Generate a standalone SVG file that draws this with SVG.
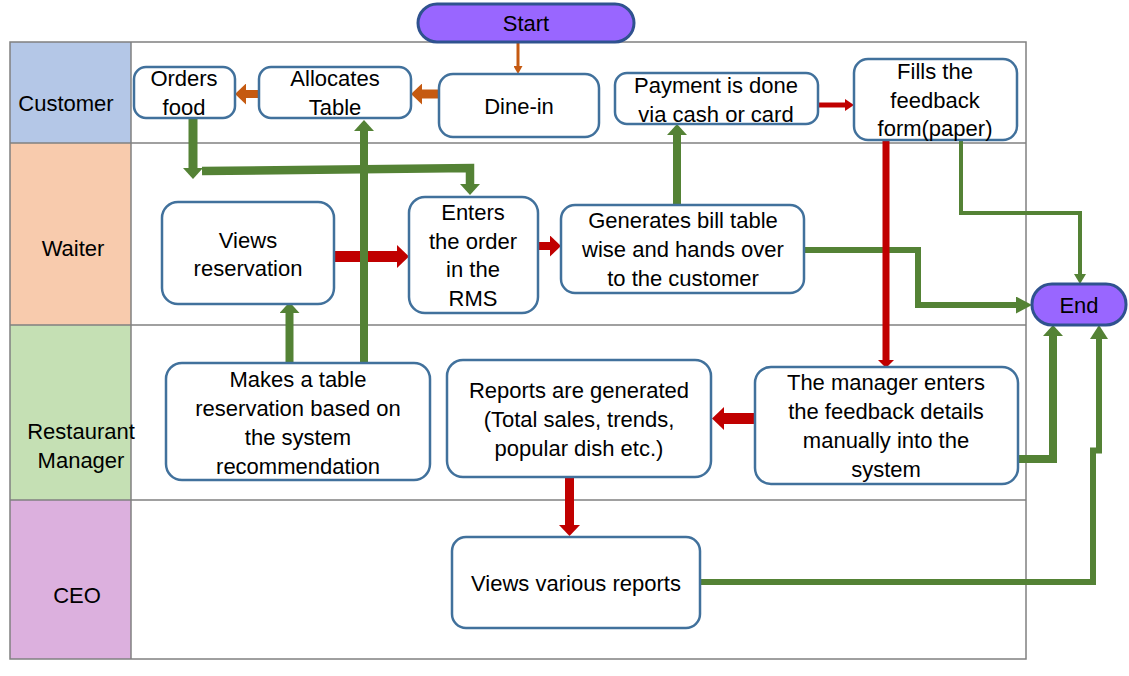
<svg xmlns="http://www.w3.org/2000/svg" width="1129" height="676" viewBox="0 0 1129 676">
<style>
.lane{stroke:#808080;stroke-width:1.5}
.node{fill:#ffffff;stroke:#41719C;stroke-width:2.5}
.term{fill:#9966FF;stroke:#2F528F;stroke-width:3}
text{font-family:"Liberation Sans",Arial,sans-serif;font-size:22px;fill:#000000;text-anchor:middle}
.c{fill:none;stroke-linejoin:miter;stroke-linecap:butt}
.g{stroke:#548235}
.r{stroke:#C00000}
.b{stroke:#C55A11}
</style>
<defs>
<marker id="brS" markerUnits="userSpaceOnUse" viewBox="0 0 8 9" markerWidth="8" markerHeight="9" refX="1" refY="4.5" orient="auto"><path d="M0,0 L8,4.5 L0,9 z" fill="#C55A11"/></marker>
<marker id="brL" markerUnits="userSpaceOnUse" viewBox="0 0 11 21" markerWidth="11" markerHeight="21" refX="1" refY="10.5" orient="auto"><path d="M0,0 L11,10.5 L0,21 z" fill="#C55A11"/></marker>
<marker id="rL" markerUnits="userSpaceOnUse" viewBox="0 0 12 23" markerWidth="12" markerHeight="23" refX="1" refY="11.5" orient="auto"><path d="M0,0 L12,11.5 L0,23 z" fill="#C00000"/></marker>
<marker id="rM" markerUnits="userSpaceOnUse" viewBox="0 0 11 21" markerWidth="11" markerHeight="21" refX="1" refY="10.5" orient="auto"><path d="M0,0 L11,10.5 L0,21 z" fill="#C00000"/></marker>
<marker id="rS" markerUnits="userSpaceOnUse" viewBox="0 0 9 12" markerWidth="9" markerHeight="12" refX="1" refY="6" orient="auto"><path d="M0,0 L9,6 L0,12 z" fill="#C00000"/></marker>
<marker id="rT" markerUnits="userSpaceOnUse" viewBox="0 0 8 16" markerWidth="8" markerHeight="16" refX="1" refY="8" orient="auto"><path d="M0,0 L8,8 L0,16 z" fill="#C00000"/></marker>
<marker id="gL" markerUnits="userSpaceOnUse" viewBox="0 0 11 20" markerWidth="11" markerHeight="20" refX="1" refY="10" orient="auto"><path d="M0,0 L11,10 L0,20 z" fill="#548235"/></marker>
<marker id="gM" markerUnits="userSpaceOnUse" viewBox="0 0 16 17" markerWidth="16" markerHeight="17" refX="1" refY="8.5" orient="auto"><path d="M0,0 L16,8.5 L0,17 z" fill="#548235"/></marker>
<marker id="gV" markerUnits="userSpaceOnUse" viewBox="0 0 14 18" markerWidth="14" markerHeight="18" refX="1" refY="9" orient="auto"><path d="M0,0 L14,9 L0,18 z" fill="#548235"/></marker>
<marker id="gS" markerUnits="userSpaceOnUse" viewBox="0 0 10 12" markerWidth="10" markerHeight="12" refX="1" refY="6" orient="auto"><path d="M0,0 L10,6 L0,12 z" fill="#548235"/></marker>
</defs>
<rect x="0" y="0" width="1129" height="676" fill="#ffffff"/>

<g id="lanes">
<rect x="10" y="42" width="121" height="101" fill="#B4C7E7"/>
<rect x="10" y="143" width="121" height="182" fill="#F8CBAD"/>
<rect x="10" y="325" width="121" height="175" fill="#C5E0B4"/>
<rect x="10" y="500" width="121" height="159" fill="#DCB0DE"/>
<rect x="10" y="42" width="1016" height="617" fill="none" class="lane"/>
<line x1="131" y1="42" x2="131" y2="659" class="lane"/>
<line x1="10" y1="143" x2="1026" y2="143" class="lane"/>
<line x1="10" y1="325" x2="1026" y2="325" class="lane"/>
<line x1="10" y1="500" x2="1026" y2="500" class="lane"/>
<text x="66" y="111">Customer</text>
<text x="73" y="256">Waiter</text>
<text x="81" y="439">Restaurant</text>
<text x="81" y="468">Manager</text>
<text x="77" y="603">CEO</text>
</g>

<g id="connectors">
<path class="c b" stroke-width="3" d="M518,42 V67" marker-end="url(#brS)"/>
<path class="c b" stroke-width="9" d="M439,94 H421" marker-end="url(#brL)"/>
<path class="c b" stroke-width="8" d="M259,94 H245" marker-end="url(#brL)"/>
<path class="c r" stroke-width="11" d="M335,256.5 H398" marker-end="url(#rL)"/>
<path class="c g" stroke-width="9" d="M193,118 V169" marker-end="url(#gL)"/>
<path class="c g" stroke-width="8.5" d="M202,171 L470,168 V185" marker-end="url(#gL)"/>
<path class="c g" stroke-width="8" d="M364,363 V130" marker-end="url(#gL)"/>
<path class="c g" stroke-width="8" d="M289.5,363 V312" marker-end="url(#gL)"/>
<path class="c r" stroke-width="8" d="M538,246 H551" marker-end="url(#rM)"/>
<path class="c g" stroke-width="8" d="M677,205 V134" marker-end="url(#gL)"/>
<path class="c r" stroke-width="5" d="M818,105 H846" marker-end="url(#rS)"/>
<path class="c g" stroke-width="4" d="M961,140 V213 H1080 V275" marker-end="url(#gS)"/>
<path class="c g" stroke-width="6" d="M805,250 H918 V305 H1017" marker-end="url(#gM)"/>
<path class="c r" stroke-width="7" d="M886,140 V361" marker-end="url(#rT)"/>
<path class="c r" stroke-width="11" d="M755,418.5 H723" marker-end="url(#rL)"/>
<path class="c r" stroke-width="9" d="M569.5,477 V526" marker-end="url(#rM)"/>
<path class="c g" stroke-width="8" d="M1018,459 H1053 V335" marker-end="url(#gL)"/>
<path class="c g" stroke-width="6" d="M700,582 H1093 V450.5 H1099 V338" marker-end="url(#gV)"/>
</g>

<g id="start"><rect x="418" y="4" width="216" height="38" rx="19" class="term"/><text x="526" y="31">Start</text></g>
<g id="end"><rect x="1032" y="284" width="94" height="41" rx="20" class="term"/><text x="1079" y="313">End</text></g>

<g id="orders-food"><rect x="134" y="67" width="101" height="51" rx="12" class="node"/><text x="184" y="86">Orders</text><text x="184" y="115">food</text></g>
<g id="allocates-table"><rect x="259" y="67" width="152" height="51" rx="12" class="node"/><text x="335" y="86">Allocates</text><text x="335" y="115">Table</text></g>
<g id="dine-in"><rect x="439" y="74" width="160" height="63" rx="14" class="node"/><text x="519" y="114">Dine-in</text></g>
<g id="payment"><rect x="615" y="73" width="203" height="51" rx="12" class="node"/><text x="716" y="93">Payment is done</text><text x="716" y="122">via cash or card</text></g>
<g id="fills-feedback"><rect x="854" y="59" width="163" height="81" rx="14" class="node"/><text x="935" y="79">Fills the</text><text x="935" y="108">feedback</text><text x="935" y="136">form(paper)</text></g>
<g id="views-reservation"><rect x="162" y="202" width="172" height="102" rx="16" class="node"/><text x="248" y="248">Views</text><text x="248" y="276">reservation</text></g>
<g id="enters-order"><rect x="409" y="197" width="129" height="116" rx="16" class="node"/><text x="473" y="220">Enters</text><text x="473" y="249">the order</text><text x="473" y="277">in the</text><text x="473" y="306">RMS</text></g>
<g id="generates-bill"><rect x="561" y="205" width="243" height="88" rx="14" class="node"/><text x="683" y="228">Generates bill table</text><text x="683" y="257">wise and hands over</text><text x="683" y="286">to the customer</text></g>
<g id="makes-reservation"><rect x="166" y="363" width="264" height="117" rx="16" class="node"/><text x="298" y="387">Makes a table</text><text x="298" y="416">reservation based on</text><text x="298" y="445">the system</text><text x="298" y="474">recommendation</text></g>
<g id="reports-generated"><rect x="447" y="360" width="264" height="117" rx="16" class="node"/><text x="579" y="398">Reports are generated</text><text x="579" y="427">(Total sales, trends,</text><text x="579" y="456">popular dish etc.)</text></g>
<g id="manager-enters"><rect x="755" y="367" width="263" height="117" rx="16" class="node"/><text x="886" y="390">The manager enters</text><text x="886" y="419">the feedback details</text><text x="886" y="448">manually into the</text><text x="886" y="477">system</text></g>
<g id="views-reports"><rect x="452" y="537" width="248" height="91" rx="14" class="node"/><text x="576" y="591">Views various reports</text></g>
</svg>
